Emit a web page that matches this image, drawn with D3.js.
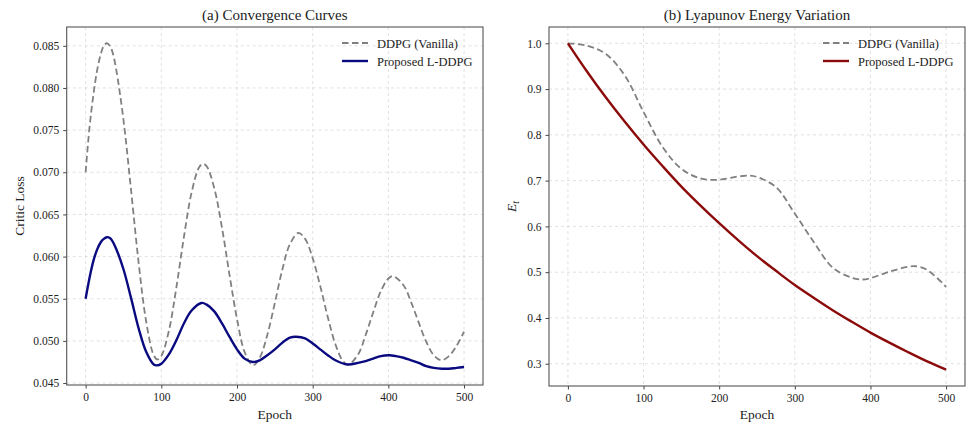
<!DOCTYPE html>
<html>
<head>
<meta charset="utf-8">
<script src="https://cdn.jsdelivr.net/npm/d3@7"></script>
<style>
  body { margin: 0; background: #fff; }
  svg text { font-family: "Liberation Serif", "Times New Roman", serif; fill: #222; }
</style>
</head>
<body>
<svg id="drawing_region"></svg>
<script>
// (a) critic loss
const lossEpochsVanilla = [0,5,10,15,20,24,28,32,35,40,50,60,70,80,90,95,100,110,120,130,140,150,155,160,170,180,190,200,210,221,230,240,250,260,270,281,290,300,310,320,330,340,347,360,370,380,390,400,406,420,430,440,450,460,470,480,490,500];
const lossVanilla = [0.0700,0.0752,0.0790,0.0820,0.0840,0.0850,0.0853,0.0850,0.0844,0.0824,0.0762,0.0679,0.0593,0.0523,0.0483,0.0478,0.0482,0.0512,0.0564,0.0624,0.0676,0.0706,0.0710,0.0707,0.0681,0.0635,0.0579,0.0526,0.0487,0.0471,0.0480,0.0507,0.0545,0.0585,0.0615,0.0628,0.0621,0.0598,0.0565,0.0528,0.0496,0.0476,0.0472,0.0484,0.0507,0.0534,0.0559,0.0574,0.0577,0.0566,0.0546,0.0522,0.0499,0.0483,0.0477,0.0482,0.0494,0.0511];

const lossEpochsProposed = [0,5,10,15,20,24,28,32,35,40,50,60,70,80,90,94,100,110,120,130,140,153,160,170,180,190,200,210,221,230,240,250,260,270,278,290,300,310,320,330,346,360,370,380,390,401,410,420,430,440,450,460,471,480,490,500];
const lossProposed = [0.0550,0.0574,0.0594,0.0608,0.0617,0.0621,0.0623,0.0622,0.0619,0.0610,0.0585,0.0551,0.0515,0.0487,0.0472,0.0471,0.0473,0.0484,0.0501,0.0521,0.0536,0.0545,0.0543,0.0535,0.0521,0.0505,0.0490,0.0479,0.0475,0.0477,0.0483,0.0490,0.0498,0.0504,0.0505,0.0503,0.0497,0.0490,0.0483,0.0477,0.0472,0.0474,0.0476,0.0479,0.0482,0.0483,0.0482,0.0480,0.0477,0.0474,0.0470,0.0468,0.0467,0.0467,0.0468,0.0469];

// (b) Lyapunov energy
const energyEpochsVanilla = [0,25,50,75,100,125,150,175,200,225,240,250,275,300,325,350,375,390,400,425,450,460,475,500];
const energyVanilla = [1.000,0.995,0.977,0.930,0.850,0.774,0.726,0.705,0.702,0.709,0.711,0.708,0.686,0.628,0.566,0.510,0.488,0.484,0.487,0.501,0.512,0.513,0.505,0.468];

const energyEpochsProposed = [0,25,50,75,100,125,150,175,200,225,250,275,300,325,350,375,400,425,450,475,500];
const energyProposed = [1.000,0.939,0.882,0.829,0.779,0.732,0.687,0.646,0.607,0.570,0.535,0.503,0.472,0.444,0.417,0.392,0.368,0.346,0.325,0.305,0.287];

const xTicks = [0,100,200,300,400,500];
const lossTicks = [0.045,0.050,0.055,0.060,0.065,0.070,0.075,0.080,0.085];
const energyTicks = [0.3,0.4,0.5,0.6,0.7,0.8,0.9,1.0];
const legendNames = ["DDPG (Vanilla)", "Proposed L-DDPG"];

const svg = d3.select('#drawing_region')
    .attr('width', 970)
    .attr('height', 423);

function zip(xs, ys) { return xs.map((x, i) => ({ x: x, y: ys[i] })); }

function padded(vals) {
    const [lo, hi] = d3.extent(vals);
    const p = (hi - lo) * 0.05;
    return [lo - p, hi + p];
}

function panel(cfg) {
    const g = svg.append('g');
    const xscale = d3.scaleLinear().domain([-25, 525]).range([cfg.left, cfg.right]);
    const yscale = d3.scaleLinear().domain(padded(cfg.series[0].y.concat(cfg.series[1].y))).range([cfg.bottom, cfg.top]);

    // grid
    g.append('g').selectAll('line.gx').data(xTicks).join('line')
        .attr('x1', d => xscale(d)).attr('x2', d => xscale(d))
        .attr('y1', cfg.top).attr('y2', cfg.bottom)
        .attr('stroke', '#d9d9d9').attr('stroke-width', 0.8).attr('stroke-dasharray', '3,3');
    g.append('g').selectAll('line.gy').data(cfg.yticks).join('line')
        .attr('x1', cfg.left).attr('x2', cfg.right)
        .attr('y1', d => yscale(d)).attr('y2', d => yscale(d))
        .attr('stroke', '#d9d9d9').attr('stroke-width', 0.8).attr('stroke-dasharray', '3,3');

    // lines
    const line = d3.line().x(d => xscale(d.x)).y(d => yscale(d.y)).curve(d3.curveCatmullRom.alpha(0.5));
    g.append('path').attr('d', line(zip(cfg.series[0].x, cfg.series[0].y)))
        .attr('fill', 'none').attr('stroke', '#808080').attr('stroke-width', 1.8)
        .attr('stroke-dasharray', '6.5,3.5');
    g.append('path').attr('d', line(zip(cfg.series[1].x, cfg.series[1].y)))
        .attr('fill', 'none').attr('stroke', cfg.color).attr('stroke-width', 2.4);

    // axes
    const xaxis = d3.axisBottom(xscale).tickValues(xTicks).tickSize(3.5).tickPadding(4);
    const yaxis = d3.axisLeft(yscale).tickValues(cfg.yticks).tickFormat(d3.format(cfg.fmt)).tickSize(3.5).tickPadding(4);
    const xg = g.append('g').attr('transform', `translate(0, ${cfg.bottom})`).call(xaxis);
    const yg = g.append('g').attr('transform', `translate(${cfg.left}, 0)`).call(yaxis);
    [xg, yg].forEach(a => {
        a.select('.domain').remove();
        a.selectAll('line').attr('stroke', '#444');
        a.selectAll('text').attr('font-size', 11.5).attr('fill', '#222')
            .style('font-family', '"Liberation Serif", "Times New Roman", serif');
    });

    g.append('rect')
        .attr('x', cfg.left).attr('y', cfg.top)
        .attr('width', cfg.right - cfg.left).attr('height', cfg.bottom - cfg.top)
        .attr('fill', 'none').attr('stroke', '#555').attr('stroke-width', 1.1);

    // title and labels
    const cx = (cfg.left + cfg.right) / 2;
    g.append('text').attr('x', cx).attr('y', 20).attr('text-anchor', 'middle')
        .attr('font-size', 15).text(cfg.title);
    g.append('text').attr('x', cx).attr('y', 419).attr('text-anchor', 'middle')
        .attr('font-size', 13.5).text('Epoch');
    const yl = g.append('text')
        .attr('transform', `translate(${cfg.ylabelX}, ${(cfg.top + cfg.bottom) / 2}) rotate(-90)`)
        .attr('text-anchor', 'middle').attr('font-size', 13.5);
    if (cfg.ylabel === 'E') {
        yl.append('tspan').attr('font-style', 'italic').text('E');
        yl.append('tspan').attr('font-style', 'italic').attr('font-size', 10).attr('dy', 3).text('t');
    } else {
        yl.text(cfg.ylabel);
    }

    // legend
    const lg = g.append('g').attr('transform', `translate(${cfg.legendX}, 43)`);
    lg.append('line').attr('x1', 0).attr('x2', 26).attr('y1', 0).attr('y2', 0)
        .attr('stroke', '#808080').attr('stroke-width', 1.8).attr('stroke-dasharray', '6.5,3.5');
    lg.append('line').attr('x1', 0).attr('x2', 26).attr('y1', 18).attr('y2', 18)
        .attr('stroke', cfg.color).attr('stroke-width', 2.4);
    lg.selectAll('text.leg').data(legendNames).join('text')
        .attr('x', 35).attr('y', (d, i) => i * 18 + 4.5)
        .attr('font-size', 12.5).text(d => d);
}

panel({
    left: 66.7, right: 483, top: 27, bottom: 385,
    title: '(a) Convergence Curves', ylabel: 'Critic Loss', ylabelX: 24,
    yticks: lossTicks, fmt: '.3f', color: '#0a0a80', legendX: 342,
    series: [{ x: lossEpochsVanilla, y: lossVanilla }, { x: lossEpochsProposed, y: lossProposed }]
});

panel({
    left: 549, right: 965, top: 27, bottom: 386,
    title: '(b) Lyapunov Energy Variation', ylabel: 'E', ylabelX: 516,
    yticks: energyTicks, fmt: '.1f', color: '#8b0a0a', legendX: 823,
    series: [{ x: energyEpochsVanilla, y: energyVanilla }, { x: energyEpochsProposed, y: energyProposed }]
});
</script>
</body>
</html>
